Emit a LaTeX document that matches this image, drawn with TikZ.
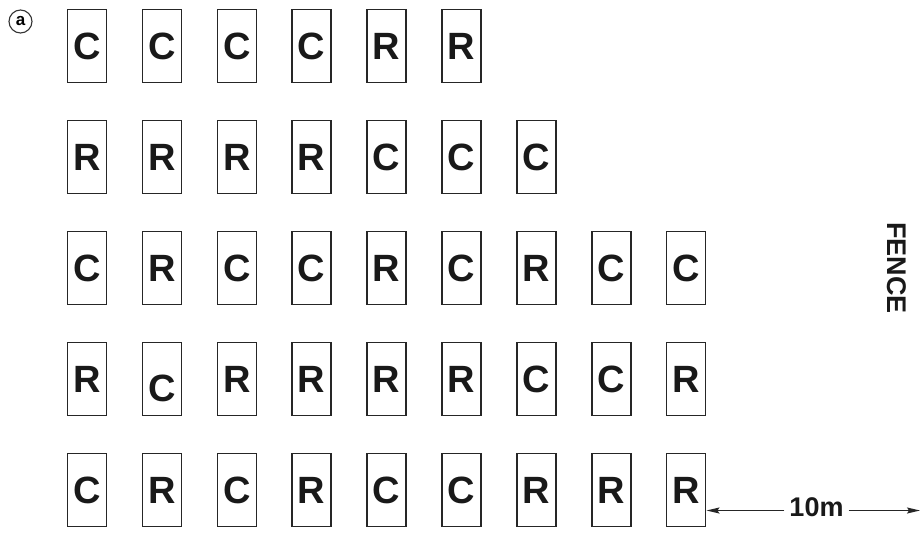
\documentclass[tikz,border=0pt]{standalone}
\usepackage{fontspec}
\setmainfont{Liberation Sans}
\usepackage{tikz}
\usetikzlibrary{arrows.meta,positioning,calc}

\begin{document}
\begin{tikzpicture}[
  x=1pt, y=-1pt,
  plot/.style={rectangle, draw=black!85, line width=1.5pt, minimum width=39pt,
               minimum height=73pt, inner sep=0pt, text=black!90,
               text height=27pt, text depth=0pt,
               font=\fontsize{38}{38}\selectfont\bfseries},
  arr/.style={-{Stealth[length=13pt, width=6pt, inset=2pt]}, line width=1.3pt, color=black!85},
  lbl/.style={font=\fontsize{27}{27}\selectfont\bfseries, color=black!90}
]
\useasboundingbox (0,0) rectangle (921,533);

%% panel tag
\node[circle, draw=black!80, line width=1.1pt, minimum size=23pt, inner sep=0pt,
      font=\fontsize{17}{17}\selectfont\bfseries] (tag) at (20.5,21.5) {a};

%% plots, one row at a time
\foreach \lt [count=\c] in {C,C,C,C,R,R}
  \node[plot] (p1\c) at ({87+74.9*(\c-1)},46) {\lt};
\foreach \lt [count=\c] in {R,R,R,R,C,C,C}
  \node[plot] (p2\c) at ({87+74.9*(\c-1)},157) {\lt};
\foreach \lt [count=\c] in {C,R,C,C,R,C,R,C,C}
  \node[plot] (p3\c) at ({87+74.9*(\c-1)},268) {\lt};
\foreach \lt [count=\c] in {R,{\raisebox{-9pt}[0pt][0pt]{C}},R,R,R,R,C,C,R}
  \node[plot] (p4\c) at ({87+74.9*(\c-1)},379) {\lt};
\foreach \lt [count=\c] in {C,R,C,R,C,C,R,R,R}
  \node[plot] (p5\c) at ({87+74.9*(\c-1)},490) {\lt};

%% fence and distance
\node[lbl, rotate=-90] (fence) at (897,268) {FENCE};
\node[lbl, inner sep=5pt] (dist) at (816.5,507.5) {10m};
\coordinate (edge) at (920,510.5);

\draw[arr] (dist.west |- edge) -- (p59.east |- edge);
\draw[arr] (dist.east |- edge) -- (edge);
\end{tikzpicture}
\end{document}
